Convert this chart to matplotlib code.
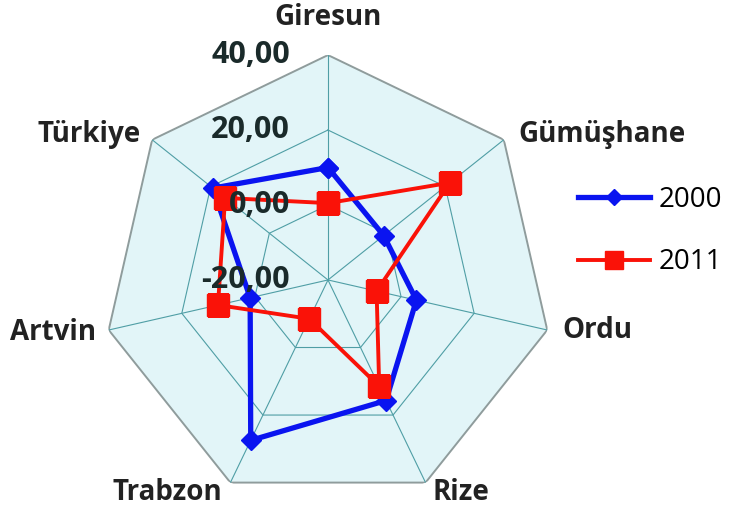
import numpy as np
import matplotlib.pyplot as plt
from matplotlib.patches import Polygon

categories = ["Giresun", "Gümüşhane", "Ordu", "Rize", "Trabzon", "Artvin", "Türkiye"]
values_2000 = [10.0, -1.0, 4.2, 15.7, 27.5, 1.3, 19.3]
values_2011 = [0.5, 21.6, -6.7, 11.5, -8.5, 10.1, 15.1]
ring_values = [0, 20, 40]
tick_labels = ["-20,00", "0,00", "20,00", "40,00"]
rmin, rmax = -20, 40

# label offsets (pixels) from each outer vertex
label_offsets = [(0, 38), (98, 5), (50, 0), (35, -10), (-63, -10), (-56, -2), (-63, 5)]

plt.rcParams['font.family'] = ['Open Sans', 'DejaVu Sans']

fig = plt.figure(figsize=(7.29, 5.12), dpi=100)
ax = fig.add_axes([0.1414, 0.0137, 0.617, 0.879], polar=True)
ax.set_theta_offset(np.pi / 2)
ax.set_theta_direction(-1)
ax.set_ylim(rmin, rmax)
ax.grid(False)
ax.spines['polar'].set_visible(False)
ax.set_xticks([])
ax.set_yticks([])
ax.patch.set_alpha(0)

n = len(categories)
angles = np.linspace(0, 2 * np.pi, n, endpoint=False)
closed = np.concatenate([angles, angles[:1]])

# background heptagon
bg = Polygon(np.column_stack([closed, np.full(n + 1, rmax)]), closed=True,
             facecolor="#e2f5f8", edgecolor="none", transform=ax.transData, zorder=0)
ax.add_patch(bg)

for rv in ring_values:
    col = "#8f9c9c" if rv == rmax else "#4f9ea5"
    lw = 1.4 if rv == rmax else 0.8
    ax.plot(closed, np.full(n + 1, rv), color=col, lw=lw, zorder=1)
for a in angles:
    ax.plot([a, a], [rmin, rmax], color="#4f9ea5", lw=0.8, zorder=1)

ax.plot(closed, values_2000 + values_2000[:1], color="#0a14f0", lw=3.8,
        marker="D", markersize=10, label="2000", zorder=3)
ax.plot(closed, values_2011 + values_2011[:1], color="#fa1208", lw=2.8,
        marker="s", markersize=16, label="2011", zorder=4)

for rv, lab in zip([rmin] + ring_values, tick_labels):
    ax.annotate(lab, xy=(0, rv), xytext=(-38, 0), textcoords="offset pixels",
                ha="right", va="center", fontsize=22, fontweight="bold",
                color="#1a2a2a", zorder=5)

for a, cat, off in zip(angles, categories, label_offsets):
    ax.annotate(cat, xy=(a, rmax), xytext=off, textcoords="offset pixels",
                ha="center", va="center", fontsize=20, fontweight="bold",
                color="#222222", annotation_clip=False)

fig.legend(loc="center left", bbox_to_anchor=(0.793, 0.549), frameon=False,
           fontsize=20, handlelength=2.6, labelspacing=1.25, handletextpad=0.29,
           borderpad=0, borderaxespad=0, markerscale=0.8)

fig.savefig("out.png", dpi=100)
